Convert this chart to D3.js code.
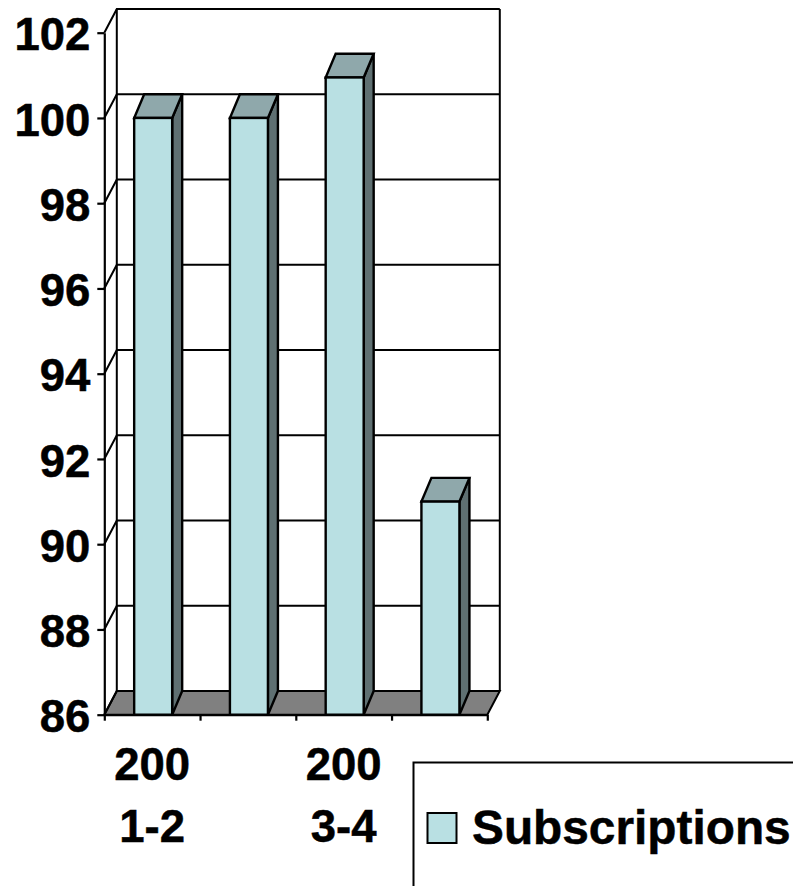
<!DOCTYPE html>
<html>
<head>
<meta charset="utf-8">
<script src="https://cdnjs.cloudflare.com/ajax/libs/d3/7.8.5/d3.min.js"></script>
<style>
  html, body { margin: 0; padding: 0; background: #fff; overflow: hidden; }
  svg { display: block; }
  text { font-family: "Liberation Sans", Arial, sans-serif; font-weight: bold; fill: #000; stroke: #000; stroke-width: 0.5px; }
</style>
</head>
<body>
<svg id="chart" width="793" height="886"></svg>
<script>
// values
const categories = ['2001-2', '2002-3', '2003-4', '2004-5'];
const subscriptions = [100, 100, 100.95, 91];
const yTicks = [86, 88, 90, 92, 94, 96, 98, 100, 102];
const xLabelLines = [['200', '1-2'], null, ['200', '3-4'], null];
const seriesName = 'Subscriptions';

const FRONT = '#b9e0e3', TOP = '#8fa8ab', SIDE = '#5f7072', FLOOR = '#808080';

const svg = d3.select('#chart');

const y = d3.scaleLinear().domain([86, 102]).range([714.7, 32.7]);
const x = d3.scaleBand().domain(categories).range([104.3, 487.3]);

// wall depth, and the shallower x shift of the bars themselves
const depthX = 12.5, depthY = 23.7, barDepthX = 10;
const barWidth = 38;
const barX = c => x(c) + (x.bandwidth() - barWidth) / 2 + 1;

const line = d3.line();
const [x0, x1] = x.range();

// floor
svg.append('path')
  .attr('d', line([[x0, y(86)], [x1, y(86)], [x1 + depthX, y(86) - depthY], [x0 + depthX, y(86) - depthY]]) + 'Z')
  .attr('fill', FLOOR).attr('stroke', '#000').attr('stroke-width', 2);

// gridlines on back wall and side wall
yTicks.forEach(t => {
  const yy = y(t) - depthY;
  if (t !== 86) {
    svg.append('path')
      .attr('d', line([[x0, y(t)], [x0 + depthX, yy], [x1 + depthX, yy]]))
      .attr('fill', 'none').attr('stroke', '#000').attr('stroke-width', 2);
  }
});
svg.append('path')
  .attr('d', line([[x0, y(86)], [x0 + depthX, y(86) - depthY]]))
  .attr('stroke', '#000').attr('stroke-width', 2);

// back wall verticals
[x0 + depthX, x1 + depthX].forEach(vx => {
  svg.append('line')
    .attr('x1', vx).attr('x2', vx)
    .attr('y1', y(102) - depthY).attr('y2', y(86) - depthY)
    .attr('stroke', '#000').attr('stroke-width', 2);
});

// bars
const bars = svg.append('g').selectAll('g')
  .data(categories.map((c, i) => ({ c, v: subscriptions[i] })))
  .enter().append('g')
  .attr('stroke', '#000').attr('stroke-width', 2.4).attr('stroke-linejoin', 'miter');

bars.append('path')
  .attr('fill', SIDE)
  .attr('d', d => {
    const r = barX(d.c) + barWidth;
    return line([[r, y(d.v)], [r + barDepthX, y(d.v) - depthY], [r + barDepthX, y(86) - depthY], [r, y(86)]]) + 'Z';
  });
bars.append('path')
  .attr('fill', TOP)
  .attr('d', d => {
    const l = barX(d.c), r = l + barWidth, t = y(d.v);
    return line([[l, t], [r, t], [r + barDepthX, t - depthY], [l + barDepthX, t - depthY]]) + 'Z';
  });
bars.append('rect')
  .attr('fill', FRONT)
  .attr('x', d => barX(d.c))
  .attr('y', d => y(d.v))
  .attr('width', barWidth)
  .attr('height', d => y(86) - y(d.v));

// y axis
const yAxis = svg.append('g')
  .attr('transform', `translate(${x0},0)`)
  .call(d3.axisLeft(y).tickValues(yTicks).tickSize(7).tickPadding(7).tickSizeOuter(0));
yAxis.selectAll('path, line').attr('stroke', '#000').attr('stroke-width', 2.2);
yAxis.selectAll('text').attr('font-size', 45.5).attr('dy', '0.38em').attr('fill', '#000');
yAxis.attr('font-family', null).attr('font-size', null);

// x axis: ticks sit on the band edges
const xEdges = d3.scaleLinear().domain([0, categories.length]).range([x0, x1]);
const xAxis = svg.append('g')
  .attr('transform', `translate(0,${y(86)})`)
  .call(d3.axisBottom(xEdges).tickValues(d3.range(categories.length + 1)).tickSize(6).tickFormat('').tickSizeOuter(0));
xAxis.selectAll('path, line').attr('stroke', '#000').attr('stroke-width', 2.2);

// wrapped category labels, every second one is dropped
categories.forEach((c, i) => {
  if (!xLabelLines[i]) return;
  const t = svg.append('text')
    .attr('text-anchor', 'middle')
    .attr('font-size', 45.5)
    .attr('y', 780);
  xLabelLines[i].forEach((s, k) => {
    t.append('tspan')
      .attr('x', x(c) + x.bandwidth() / 2)
      .attr('dy', k ? 62 : 0)
      .text(s);
  });
});

// legend, runs off the page on the right and bottom
const legend = svg.append('g');
legend.append('rect')
  .attr('x', 413.5).attr('y', 762.5).attr('width', 500).attr('height', 200)
  .attr('fill', '#fff').attr('stroke', '#000').attr('stroke-width', 2);
legend.append('rect')
  .attr('x', 427.5).attr('y', 813).attr('width', 29).attr('height', 30)
  .attr('fill', FRONT).attr('stroke', '#000').attr('stroke-width', 2);
legend.append('text')
  .attr('x', 472).attr('y', 844)
  .attr('font-size', 47.8)
  .text(seriesName);
</script>
</body>
</html>
